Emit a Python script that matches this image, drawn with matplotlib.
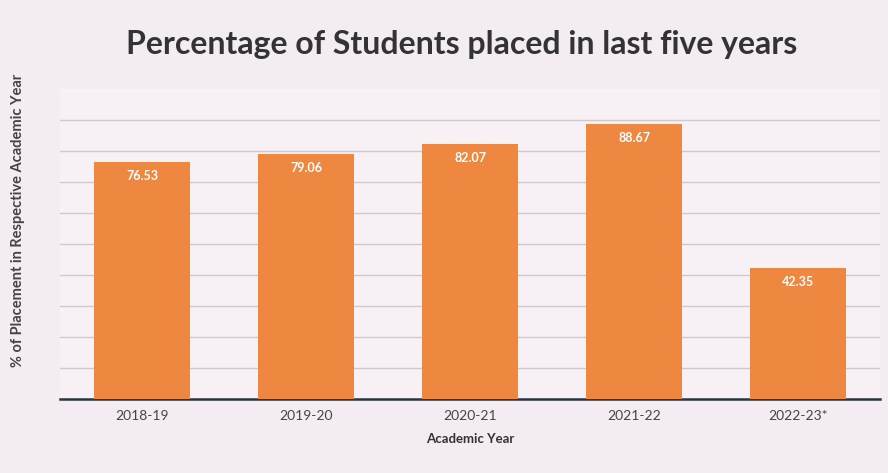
import matplotlib.pyplot as plt

# data
years = ["2018-19", "2019-20", "2020-21", "2021-22", "2022-23*"]
placement = [76.53, 79.06, 82.07, 88.67, 42.35]

plt.rcParams['font.family'] = ['Lato', 'DejaVu Sans']

fig = plt.figure(figsize=(8.88, 4.73), dpi=100)
fig.patch.set_facecolor('#f4ecf3')
ax = fig.add_axes([0.0676, 0.1564, 0.9234, 0.656])
ax.set_facecolor('#f7f1f6')

x = range(len(years))
bars = ax.bar(x, placement, width=0.59, color='#ee873f', zorder=3)

for b, v in zip(bars, placement):
    ax.text(b.get_x() + b.get_width() / 2, v - 2.6, f"{v:.2f}",
            ha='center', va='top', color='white', fontsize=9, fontweight='bold', zorder=4)

ax.set_xlim(-0.5, len(years) - 0.5)
ax.set_ylim(0, 100)
ax.set_yticks(range(10, 100, 10))
ax.yaxis.grid(True, color='#d0c8ce', linewidth=1, zorder=0)
ax.tick_params(axis='y', left=False, labelleft=False)
ax.tick_params(axis='x', length=0, pad=8, labelsize=10, colors='#444444')
ax.set_xticks(list(x))
ax.set_xticklabels(years)

for s in ['top', 'right', 'left']:
    ax.spines[s].set_visible(False)
ax.spines['bottom'].set_color('#2b3440')
ax.spines['bottom'].set_linewidth(1.8)

ax.set_xlabel("Academic Year", fontsize=9.5, fontweight='bold', color='#333333', labelpad=8)
fig.text(0.02, 0.535, "% of Placement in Respective Academic Year", rotation=90,
         ha='center', va='center', fontsize=10.5, fontweight='bold', color='#444444')
fig.text(0.52, 0.905, "Percentage of Students placed in last five years",
         ha='center', va='center', fontsize=23, fontweight='bold', color='#333333')

fig.savefig("out.png", dpi=100, facecolor=fig.get_facecolor())
